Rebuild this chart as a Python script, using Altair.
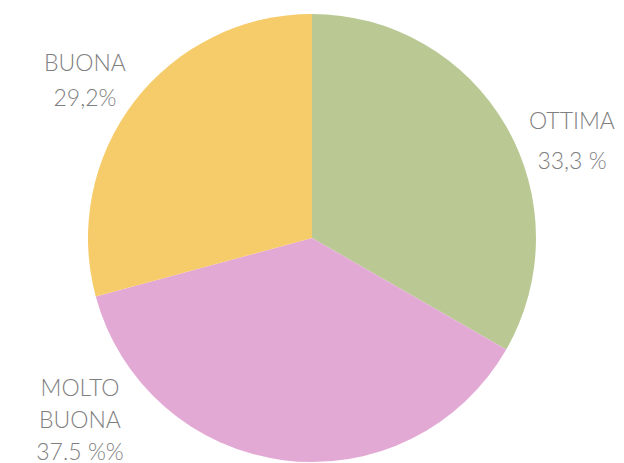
import altair as alt
import pandas as pd

categories = ["OTTIMA", "MOLTO BUONA", "BUONA"]
values = [33.3, 37.5, 29.2]
colors = ["#BAC994", "#E3A9D5", "#F6CB69"]
label_texts = ["OTTIMA\n33,3 %", "MOLTO\nBUONA\n37.5 %%", "BUONA\n29,2%"]

df = pd.DataFrame({"cat": categories, "value": values, "order": [0, 1, 2]})

pie = alt.Chart(df).mark_arc(outerRadius=224, stroke=None).encode(
    theta=alt.Theta("value:Q", stack=True),
    color=alt.Color("cat:N", scale=alt.Scale(domain=categories, range=colors), legend=None),
    order=alt.Order("order:Q"),
)

label_pos = [(572, 129, 40), (80, 396, 32), (85, 71, 35)]
layers = [pie]
for t, (x, y, lh) in zip(label_texts, label_pos):
    layers.append(
        alt.Chart(pd.DataFrame({"t": [t]})).mark_text(
            font="Lato", fontWeight=300, fontSize=23, color="#7f7f7f",
            align="center", baseline="alphabetic", lineBreak="\n", lineHeight=lh,
        ).encode(text="t:N", x=alt.value(x - 8), y=alt.value(y - 8))
    )

chart = alt.layer(*layers).properties(
    width=608, height=460, autosize=alt.AutoSizeParams(type="none"), padding=0
).configure_view(stroke=None)

chart.save("out.html", embed_options={"renderer": "svg", "actions": False})
